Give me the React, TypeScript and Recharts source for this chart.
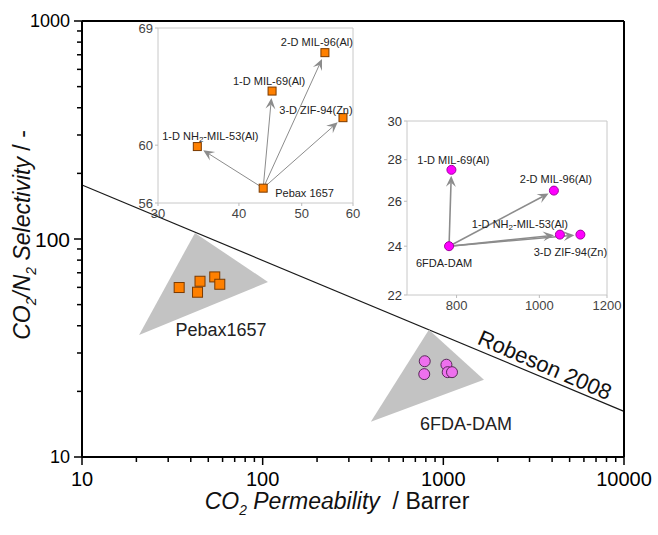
import React from "react";
import {
  ScatterChart,
  Scatter,
  XAxis,
  YAxis,
  ReferenceLine,
  ReferenceArea,
  ReferenceDot,
} from "recharts";

// Pebax 1657 based membranes (inset 1 + main chart)
const pebaxNames = ["Pebax 1657", "1-D NH2-MIL-53(Al)", "1-D MIL-69(Al)", "2-D MIL-96(Al)", "3-D ZIF-94(Zn)"];
const pebaxPerm = [43.6, 34.5, 45.0, 54.3, 57.9];
const pebaxSel = [57.0, 59.9, 64.0, 67.0, 62.0];

// 6FDA-DAM based membranes (inset 2 + main chart)
const fdaNames = ["6FDA-DAM", "1-D MIL-69(Al)", "2-D MIL-96(Al)", "1-D NH2-MIL-53(Al)", "3-D ZIF-94(Zn)"];
const fdaPerm = [784, 789, 1040, 1057, 1117];
const fdaSel = [24.0, 27.5, 26.5, 24.5, 24.5];

// grey regions
const pebaxTriPerm = [42.2, 20.7, 107];
const pebaxTriSel = [106.6, 36.3, 63.5];
const fdaTriPerm = [832, 397, 1678];
const fdaTriSel = [38.3, 14.5, 22.6];

// Robeson 2008 upper bound end points
const robesonPerm = [10, 10000];
const robesonSel = [177, 16.2];

const mainXTicks = [10, 20, 30, 40, 50, 60, 70, 80, 90, 100, 200, 300, 400, 500, 600, 700, 800, 900, 1000, 2000, 3000, 4000, 5000, 6000, 7000, 8000, 9000, 10000];
const mainYTicks = [10, 20, 30, 40, 50, 60, 70, 80, 90, 100, 200, 300, 400, 500, 600, 700, 800, 900, 1000];
const mainMajor = [10, 100, 1000, 10000];
const inset1XTicks = [30, 40, 50, 60];
const inset1YTicks = [56, 60, 69];
const inset2XTicks = [800, 1000, 1200];
const inset2YTicks = [22, 24, 26, 28, 30];

const toPoints = (names: string[], xs: number[], ys: number[]) =>
  xs.map((x, i) => ({ name: names[i], x, y: ys[i] }));
const toXY = (xs: number[], ys: number[]) => xs.map((x, i) => ({ x, y: ys[i] }));

const pebaxPoints = toPoints(pebaxNames, pebaxPerm, pebaxSel);
const fdaPoints = toPoints(fdaNames, fdaPerm, fdaSel);

// label placement relative to marker (px)
const inset1Labels: Record<string, [number, number, string]> = {
  "Pebax 1657": [12, 5, "start"],
  "1-D NH2-MIL-53(Al)": [13, -11, "middle"],
  "1-D MIL-69(Al)": [-3, -10, "middle"],
  "2-D MIL-96(Al)": [-8, -11, "middle"],
  "3-D ZIF-94(Zn)": [-27, -8, "middle"],
};
const inset2Labels: Record<string, [number, number, string]> = {
  "6FDA-DAM": [-5, 17, "middle"],
  "1-D MIL-69(Al)": [2, -10, "middle"],
  "2-D MIL-96(Al)": [2, -12, "middle"],
  "1-D NH2-MIL-53(Al)": [-40, -11, "middle"],
  "3-D ZIF-94(Zn)": [-10, 17, "middle"],
};

const FONT = "'Liberation Sans', Arial, Helvetica, sans-serif";
const ORANGE = "#ff8000";
const ORANGE_EDGE = "#7a3a00";
const ARROW = "#8c8c8c";
const TICK_GAP = 5; // tickSize + tickMargin of the main axes

function labelText(name: string) {
  if (name.includes("NH2")) {
    const [a, b] = name.split("NH2");
    return (
      <>
        {a}NH<tspan dy={3} fontSize={8}>2</tspan>
        <tspan dy={-3}>{b}</tspan>
      </>
    );
  }
  return name;
}

// outward tick marks (longer on decades), labels on decades only
const MainXTick = (props: any) => {
  const { x, y, payload } = props;
  const major = mainMajor.includes(payload.value);
  return (
    <g>
      <rect x={x - 0.75} y={y - TICK_GAP} width={1.5} height={major ? 8 : 5} fill="#000" />
      {major && (
        <text x={x} y={y + 17} textAnchor="middle" dominantBaseline="central" fontSize={20} fill="#000">
          {payload.value}
        </text>
      )}
    </g>
  );
};

const MainYTick = (props: any) => {
  const { x, y, payload } = props;
  const major = mainMajor.includes(payload.value);
  const len = major ? 8 : 5;
  return (
    <g>
      <rect x={x + TICK_GAP - len} y={y - 0.75} width={len} height={1.5} fill="#000" />
      {major && (
        <text x={x - 7} y={y} textAnchor="end" dominantBaseline="central" fontSize={payload.value === 100 ? 21 : 18} fill="#000">
          {payload.value}
        </text>
      )}
    </g>
  );
};

const triangle = (fill: string) => (lp: any) => (
  <polygon points={lp.points.map((p: any) => `${p.x},${p.y}`).join(" ")} fill={fill} stroke="none" />
);

const arrowShape = (gap: number, width: number) => (p: any) => {
  const { x1, y1, x2, y2 } = p;
  const dx = x2 - x1;
  const dy = y2 - y1;
  const len = Math.hypot(dx, dy) || 1;
  const ux = dx / len;
  const uy = dy / len;
  const tx = x2 - ux * gap;
  const ty = y2 - uy * gap;
  const hl = 11;
  const hw = 5;
  const bx = tx - ux * hl;
  const by = ty - uy * hl;
  const mx = tx - ux * hl * 0.6;
  const my = ty - uy * hl * 0.6;
  return (
    <g>
      <line x1={x1} y1={y1} x2={mx} y2={my} stroke={ARROW} strokeWidth={width} />
      <polygon
        points={`${tx},${ty} ${bx - uy * hw},${by + ux * hw} ${mx},${my} ${bx + uy * hw},${by - ux * hw}`}
        fill={ARROW}
      />
    </g>
  );
};

const square = (size: number, fill: string, edge: string) => (p: any) => (
  <rect x={p.cx - size / 2} y={p.cy - size / 2} width={size} height={size} fill={fill} stroke={edge} strokeWidth={1} />
);
const circle = (r: number, fill: string, edge: string) => (p: any) => (
  <circle cx={p.cx} cy={p.cy} r={r} fill={fill} stroke={edge} strokeWidth={1} />
);

const labelled = (marker: (p: any) => React.ReactNode, labels: Record<string, [number, number, string]>) => (p: any) => {
  const [dx, dy, anchor] = labels[p.payload.name];
  return (
    <g>
      {marker(p)}
      <text x={p.cx + dx} y={p.cy + dy} textAnchor={anchor as any} dominantBaseline="central" fontSize={11} fill="#222">
        {labelText(p.payload.name)}
      </text>
    </g>
  );
};

function Inset1() {
  const base = pebaxPoints[0];
  return (
    <ScatterChart width={245} height={210} margin={{ top: 10, right: 10, bottom: 5, left: 10 }}>
      <XAxis type="number" dataKey="x" scale="log" domain={[30, 60]} allowDataOverflow ticks={inset1XTicks} interval={0}
        height={20} tick={{ fontSize: 13, fill: "#444" }} tickSize={3} tickMargin={3} axisLine={false} tickLine={{ stroke: "#bbb" }} />
      <YAxis type="number" dataKey="y" scale="log" domain={[56, 69]} allowDataOverflow ticks={inset1YTicks} interval={0}
        width={30} tick={{ fontSize: 13, fill: "#444" }} tickSize={3} tickMargin={2} axisLine={false} tickLine={{ stroke: "#bbb" }} />
      <ReferenceArea x1={30} x2={60} y1={56} y2={69} fill="none" stroke="#c8c8c8" strokeWidth={1} />
      {pebaxPoints.slice(1).map((t) => (
        <ReferenceLine key={t.name} segment={[{ x: base.x, y: base.y }, { x: t.x, y: t.y }]} shape={arrowShape(7, 1)} />
      ))}
      <Scatter data={pebaxPoints} isAnimationActive={false} shape={labelled(square(8, ORANGE, ORANGE_EDGE), inset1Labels)} />
    </ScatterChart>
  );
}

function Inset2() {
  const base = fdaPoints[0];
  return (
    <ScatterChart width={265} height={209} margin={{ top: 10, right: 25, bottom: 5, left: 10 }}>
      <XAxis type="number" dataKey="x" scale="log" domain={[700, 1200]} allowDataOverflow ticks={inset2XTicks} interval={0}
        height={20} tick={{ fontSize: 13, fill: "#444" }} tickSize={3} tickMargin={3} axisLine={false} tickLine={{ stroke: "#bbb" }} />
      <YAxis type="number" dataKey="y" scale="log" domain={[22, 30]} allowDataOverflow ticks={inset2YTicks} interval={0}
        width={30} tick={{ fontSize: 13, fill: "#333" }} tickSize={3} tickMargin={2} axisLine={false} tickLine={{ stroke: "#bbb" }} />
      <ReferenceArea x1={700} x2={1200} y1={22} y2={30} fill="none" stroke="#c8c8c8" strokeWidth={1} />
      {fdaPoints.slice(1).map((t) => (
        <ReferenceLine key={t.name} segment={[{ x: base.x, y: base.y }, { x: t.x, y: t.y }]} shape={arrowShape(6, 1.6)} />
      ))}
      <Scatter data={fdaPoints} isAnimationActive={false} shape={labelled(circle(4.5, "#ff00ff", "#a000a0"), inset2Labels)} />
    </ScatterChart>
  );
}

export default function App() {
  return (
    <div style={{ position: "absolute", left: 0, top: 0, width: 658, height: 535, background: "#fff", fontFamily: FONT }}>
      <ScatterChart width={658} height={535} margin={{ top: 21, right: 34, bottom: 38, left: 10 }}>
        <XAxis type="number" dataKey="x" scale="log" domain={[10, 10000]} allowDataOverflow ticks={mainXTicks} interval={0}
          height={40} tickSize={TICK_GAP} tickMargin={0} tickLine={false} tick={MainXTick}
          axisLine={{ stroke: "#000", strokeWidth: 2 }} />
        <YAxis type="number" dataKey="y" scale="log" domain={[10, 1000]} allowDataOverflow ticks={mainYTicks} interval={0}
          width={72} tickSize={TICK_GAP} tickMargin={0} tickLine={false} tick={MainYTick}
          axisLine={{ stroke: "#000", strokeWidth: 2 }} />
        <Scatter data={toXY(pebaxTriPerm, pebaxTriSel)} isAnimationActive={false} line={triangle("#c3c3c3")} shape={() => <g />} />
        <Scatter data={toXY(fdaTriPerm, fdaTriSel)} isAnimationActive={false} line={triangle("#c3c3c3")} shape={() => <g />} />
        <ReferenceLine
          segment={toXY(robesonPerm, robesonSel)}
          stroke="#1a1a1a"
          strokeWidth={1.2}
        />
        <ReferenceLine y={1000} stroke="#000" strokeWidth={2} />
        <ReferenceLine x={10000} stroke="#000" strokeWidth={2} />
        <Scatter data={pebaxPoints} isAnimationActive={false} shape={square(10, ORANGE, ORANGE_EDGE)} />
        <Scatter data={fdaPoints} isAnimationActive={false} shape={circle(5.5, "#ee70ee", "#5a2a5a")} />
        <ReferenceDot x={58.8} y={38.3} r={0} shape={(p: any) => (
          <text x={p.cx} y={p.cy} textAnchor="middle" dominantBaseline="central" fontSize={18} fill="#222">Pebax1657</text>
        )} />
        <ReferenceDot x={1334} y={14.2} r={0} shape={(p: any) => (
          <text x={p.cx} y={p.cy} textAnchor="middle" dominantBaseline="central" fontSize={18} fill="#222">6FDA-DAM</text>
        )} />
        <ReferenceDot x={3648} y={26.4} r={0} shape={(p: any) => (
          <text x={p.cx} y={p.cy} textAnchor="middle" dominantBaseline="central" fontSize={22} fill="#111"
            transform={`rotate(23.5, ${p.cx}, ${p.cy})`}>Robeson 2008</text>
        )} />
      </ScatterChart>

      <div style={{ position: "absolute", left: 118, top: 18 }}>
        <Inset1 />
      </div>
      <div style={{ position: "absolute", left: 367, top: 111 }}>
        <Inset2 />
      </div>

      <div style={{ position: "absolute", left: 337, top: 504, transform: "translate(-50%, -50%)", whiteSpace: "nowrap", fontSize: 23, color: "#111", lineHeight: 1 }}>
        <i>CO<sub style={{ fontSize: "0.6em" }}>2</sub> Permeability</i>&nbsp; / Barrer
      </div>
      <div style={{ position: "absolute", left: 25, top: 235, transform: "translate(-50%, -50%) rotate(-90deg)", whiteSpace: "nowrap", fontSize: 23, color: "#111", lineHeight: 1 }}>
        <i>CO<sub style={{ fontSize: "0.6em" }}>2</sub>/N<sub style={{ fontSize: "0.6em" }}>2</sub> Selectivity</i> / -
      </div>
    </div>
  );
}
